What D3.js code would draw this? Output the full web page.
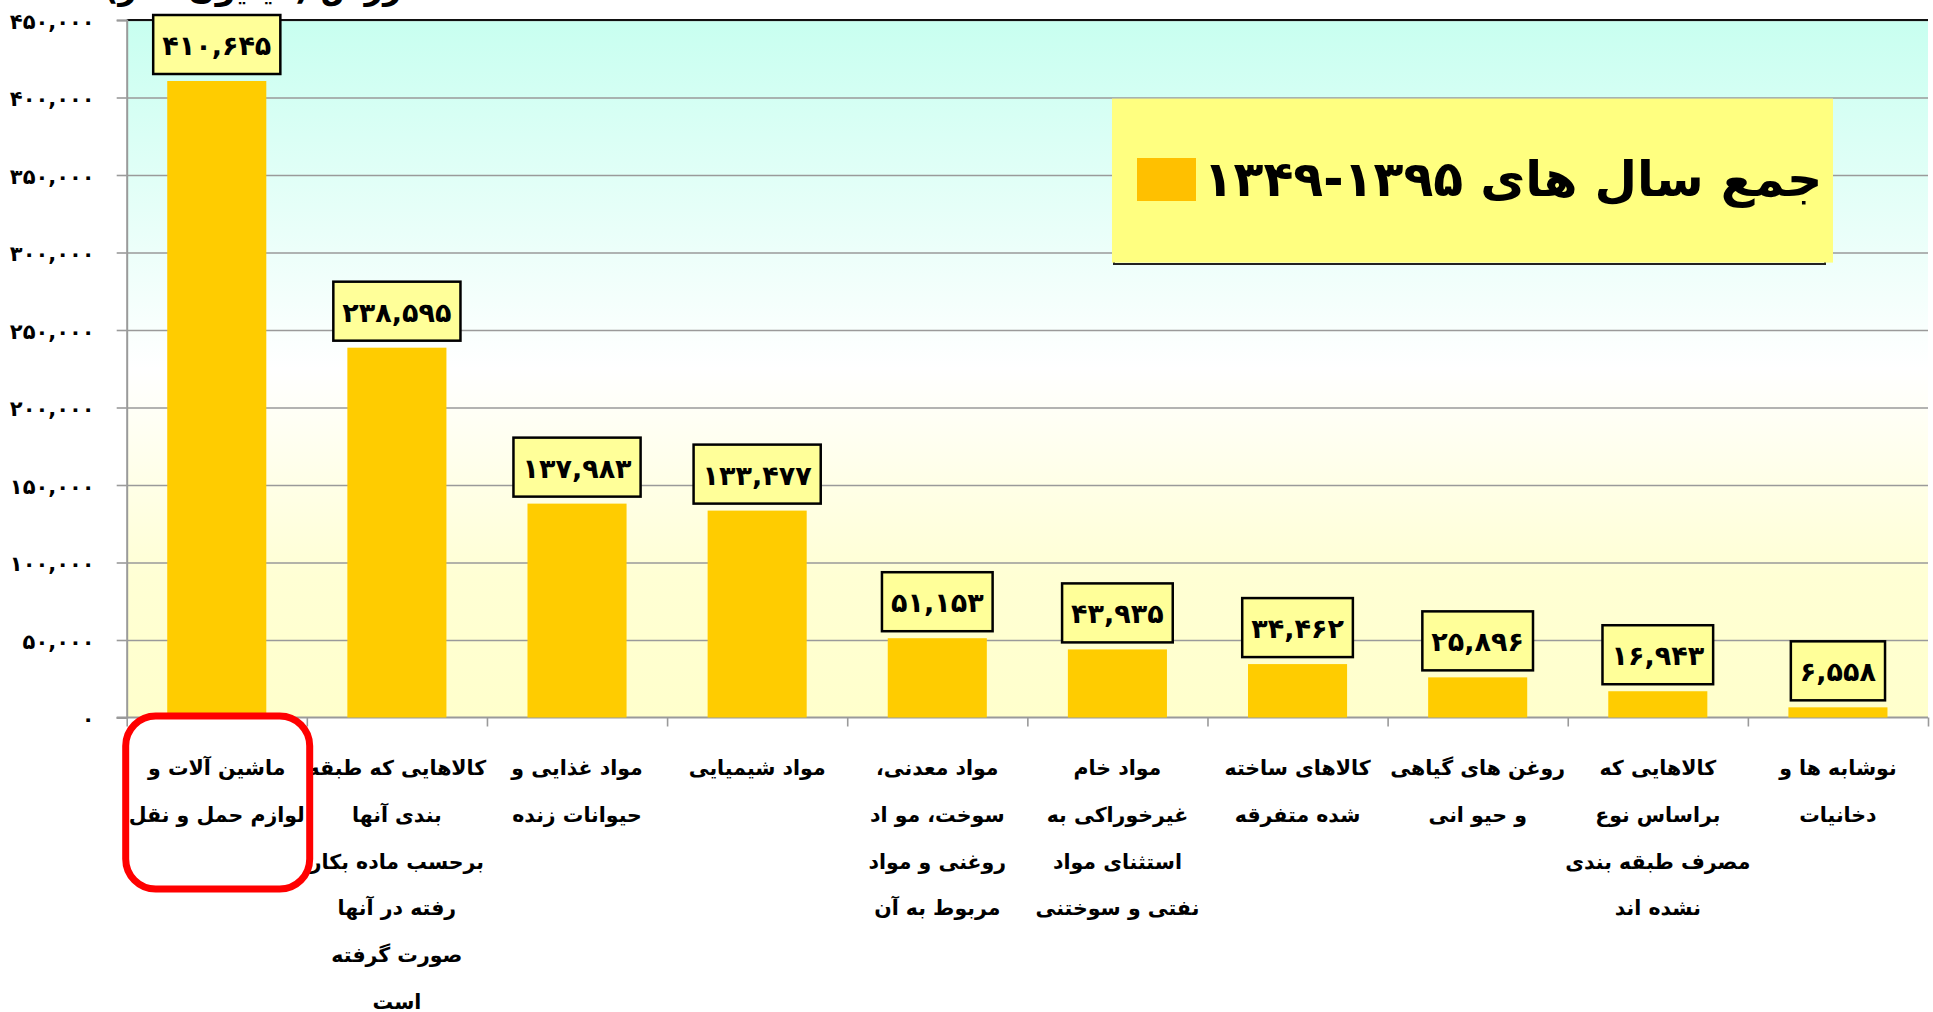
<!DOCTYPE html>
<html>
<head>
<meta charset="utf-8">
<script src="https://cdn.jsdelivr.net/npm/d3@7"></script>
<style>
  body { margin: 0; background: #fff; }
  svg text { font-family: "DejaVu Sans", sans-serif; font-weight: bold; fill: #000; }
</style>
</head>
<body>
<div class="chart"></div>
<script>
// categories (each one split in lines as in the picture)
var categories = ["c1","c2","c3","c4","c5","c6","c7","c8","c9","c10"];
var categoryLines = [
  ["ماشین آلات و", "لوازم حمل و نقل"],
  ["کالاهایی که طبقه", "بندی آنها", "برحسب ماده بکار", "رفته در آنها", "صورت گرفته", "است"],
  ["مواد غذایی و", "حیوانات زنده"],
  ["مواد شیمیایی"],
  ["مواد معدنی،", "سوخت، مو اد", "روغنی و مواد", "مربوط به آن"],
  ["مواد خام", "غیرخوراکی به", "استثنای مواد", "نفتی و سوختنی"],
  ["کالاهای ساخته", "شده متفرقه"],
  ["روغن های گیاهی", "و حیو انی"],
  ["کالاهایی که", "براساس نوع", "مصرف طبقه بندی", "نشده اند"],
  ["نوشابه ها و", "دخانیات"]
];
var values = [410645, 238595, 137983, 133477, 51153, 43935, 34462, 25896, 16943, 6558];
var yTicks = [0, 50000, 100000, 150000, 200000, 250000, 300000, 350000, 400000, 450000];
var legendLabel = "جمع سال های ۱۳۹۵-۱۳۴۹";
var axisTitle = "ارزش (میلیون دلار)";

var w = 1933, h = 1012;
var plotLeft = 126.7, plotRight = 1928, plotTop = 20, plotBottom = 717.5;

var svg = d3.select("div.chart").append("svg")
    .attr("width", w).attr("height", h);

// persian digits
function fa(s){
  return String(s).replace(/[0-9]/g, function(c){ return "۰۱۲۳۴۵۶۷۸۹"[+c]; });
}
var fmt = function(v){ return fa(d3.format(",")(v)); };

var y = d3.scaleLinear().domain([0, 450000]).range([plotBottom, plotTop]);
var x = d3.scaleBand().domain(categories).range([plotLeft, plotRight])
    .paddingInner(0.45).paddingOuter(0.225);

//background gradient
var defs = svg.append("defs");
var grad = defs.append("linearGradient").attr("id", "bg")
    .attr("x1", 0).attr("y1", 0).attr("x2", 0).attr("y2", 1);
grad.append("stop").attr("offset", "0%").attr("stop-color", "#c8fff0");
grad.append("stop").attr("offset", "50%").attr("stop-color", "#ffffff");
grad.append("stop").attr("offset", "80%").attr("stop-color", "#ffffd4");
grad.append("stop").attr("offset", "100%").attr("stop-color", "#ffffcc");

svg.append("rect")
    .attr("x", plotLeft).attr("y", plotTop)
    .attr("width", plotRight - plotLeft).attr("height", plotBottom - plotTop)
    .attr("fill", "url(#bg)");

// gridlines
svg.append("g")
    .attr("transform", `translate(${plotLeft},0)`)
    .call(d3.axisLeft(y).tickValues(yTicks.slice(1)).tickSize(-(plotRight - plotLeft)).tickFormat(""))
    .call(g => g.select(".domain").remove())
    .call(g => g.selectAll("line").attr("stroke", "#9a9a9a").attr("stroke-width", 1.6));

// top border
svg.append("line")
    .attr("x1", plotLeft).attr("x2", plotRight).attr("y1", plotTop).attr("y2", plotTop)
    .attr("stroke", "#111").attr("stroke-width", 2);

// y axis
var yAxis = svg.append("g")
    .attr("transform", `translate(${plotLeft},0)`)
    .call(d3.axisLeft(y).tickValues(yTicks).tickSize(10).tickPadding(22).tickFormat(fmt));
yAxis.select(".domain").attr("stroke", "#9a9a9a").attr("stroke-width", 2);
yAxis.selectAll(".tick line").attr("stroke", "#9a9a9a").attr("stroke-width", 1.6);
yAxis.selectAll(".tick text")
    .style("font-family", "DejaVu Sans").style("font-weight", "bold")
    .attr("font-size", 21).attr("dy", "0.4em");

// x axis (ticks between categories)
var xb = d3.scaleLinear().domain([0, categories.length]).range([plotLeft, plotRight]);
var xAxis = svg.append("g")
    .attr("transform", `translate(0,${plotBottom})`)
    .call(d3.axisBottom(xb).ticks(categories.length).tickSize(9).tickSizeOuter(0).tickFormat(""));
xAxis.select(".domain").attr("stroke", "#9a9a9a").attr("stroke-width", 2)
    .attr("d", `M${plotLeft - 10},0H${plotRight}`);
xAxis.selectAll(".tick line").attr("stroke", "#9a9a9a").attr("stroke-width", 1.6);

// bars
svg.append("g").selectAll("rect")
    .data(values)
    .join("rect")
    .attr("x", (d, i) => x(categories[i]))
    .attr("y", d => y(d))
    .attr("width", x.bandwidth())
    .attr("height", d => y(0) - y(d))
    .attr("fill", "#ffcc00");

// value labels in boxes
var lab = svg.append("g").selectAll("g")
    .data(values)
    .join("g")
    .attr("transform", (d, i) => `translate(${x(categories[i]) + x.bandwidth() / 2},${y(d) - 7})`);
var boxes = lab.append("rect")
    .attr("y", -59).attr("height", 59)
    .attr("fill", "#ffff99").attr("stroke", "#000").attr("stroke-width", 2.5);
var labTexts = lab.append("text")
    .attr("text-anchor", "middle")
    .attr("y", -19)
    .attr("font-size", 27)
    .text(d => fmt(d));
labTexts.each(function(d, i){
  var tw = this.getComputedTextLength();
  d3.select(boxes.nodes()[i]).attr("x", -tw / 2 - 9).attr("width", tw + 18);
});

// category labels
svg.append("g").selectAll("text")
    .data(categories)
    .join("text")
    .attr("direction", "rtl")
    .attr("text-anchor", "middle")
    .attr("font-size", 20.5)
    .each(function(c, i){
      var cx = x(c) + x.bandwidth() / 2;
      d3.select(this).selectAll("tspan")
        .data(categoryLines[i])
        .join("tspan")
        .attr("x", cx)
        .attr("y", (d, j) => 775 + j * 46.8)
        .text(d => d);
    });

// red highlight around first category
svg.append("rect")
    .attr("x", 125.7).attr("y", 716)
    .attr("width", 184).attr("height", 173)
    .attr("rx", 30).attr("ry", 30)
    .attr("fill", "none").attr("stroke", "#ff0000").attr("stroke-width", 7);

// legend
var lg = svg.append("g");
lg.append("path")
    .attr("d", "M1114,258V264H1825V258")
    .attr("fill", "none").attr("stroke", "#222").attr("stroke-width", 2);
lg.append("rect")
    .attr("x", 1112).attr("y", 98.6).attr("width", 721).attr("height", 164)
    .attr("fill", "#ffff80");
lg.append("rect")
    .attr("x", 1137).attr("y", 158).attr("width", 59).attr("height", 43)
    .attr("fill", "#ffc000");
lg.append("text")
    .attr("direction", "rtl")
    .attr("text-anchor", "middle")
    .attr("x", 1513).attr("y", 196)
    .attr("font-size", 49)
    .text(legendLabel);

// axis title (cut at the top)
svg.append("text")
    .attr("direction", "rtl")
    .attr("text-anchor", "middle")
    .attr("x", 258).attr("y", -1)
    .attr("font-size", 32)
    .text(axisTitle);
</script>
</body>
</html>
